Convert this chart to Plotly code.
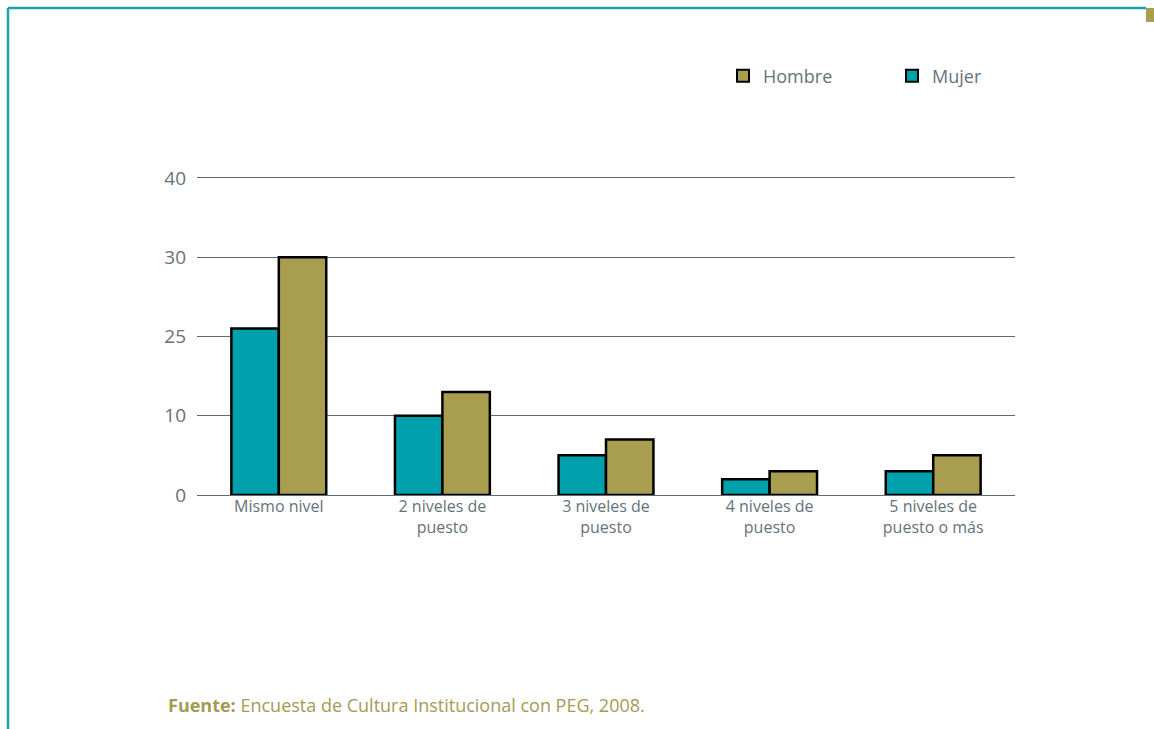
import plotly.graph_objects as go

categories = ["Mismo nivel", "2 niveles de<br>puesto", "3 niveles de<br>puesto",
              "4 niveles de<br>puesto", "5 niveles de<br>puesto o más"]
mujer = [21, 10, 5, 2, 3]
hombre = [30, 13, 7, 3, 5]
tick_vals = [0, 10, 20, 30, 40]
tick_text = ["0", "10", "25", "30", "40"]

TEAL = "#00a0ad"
GOLD = "#a99d4f"
TXT = "#66727a"
FONT = "Open Sans"

W, H = 1154, 729
L, R, T, B = 197, 1015, 176, 495
YMAX = 40.25


def px(x):
    return (x - L) / (R - L)


def py(y):
    return (B - y) / (B - T)


fig = go.Figure()
fig.add_bar(name="Mujer", x=categories, y=mujer, marker=dict(color=TEAL, line=dict(color="black", width=2.5)))
fig.add_bar(name="Hombre", x=categories, y=hombre, marker=dict(color=GOLD, line=dict(color="black", width=2.5)))

fig.update_layout(
    width=W, height=H,
    margin=dict(l=L, r=W - R, t=T, b=H - B, pad=0),
    paper_bgcolor="white", plot_bgcolor="white",
    barmode="group", bargap=0.42, bargroupgap=0,
    font=dict(family=FONT, color=TXT),
    legend=dict(orientation="h", traceorder="reversed", x=px(723), y=py(76),
                xanchor="left", yanchor="middle", entrywidth=124,
                font=dict(size=18, color=TXT, family=FONT), itemsizing="constant"),
    xaxis=dict(showgrid=False, showline=False, ticks="", tickfont=dict(size=16, color=TXT)),
    yaxis=dict(range=[0, YMAX], tickvals=tick_vals, ticktext=tick_text, showgrid=True,
               gridcolor="#5f6b73", gridwidth=1, zeroline=True, zerolinecolor="#5f6b73",
               zerolinewidth=1, showline=False, ticks="", ticklabelstandoff=10,
               tickfont=dict(size=19, color=TXT)),
    shapes=[
        dict(type="line", xref="paper", yref="paper", x0=px(8), x1=px(1146), y0=py(8), y1=py(8),
             line=dict(color="#1aa3b0", width=2.5)),
        dict(type="line", xref="paper", yref="paper", x0=px(8), x1=px(8), y0=py(8), y1=py(729),
             line=dict(color="#1aa3b0", width=2.5)),
        dict(type="rect", xref="paper", yref="paper", x0=px(1146), x1=px(1154), y0=py(8), y1=py(22),
             fillcolor=GOLD, line=dict(width=0)),
    ],
    annotations=[
        dict(xref="paper", yref="paper", x=px(166), y=py(705), xanchor="left", yanchor="middle",
             showarrow=False, text="<b>Fuente:</b> Encuesta de Cultura Institucional con PEG, 2008.",
             font=dict(size=18, color="#a59a54", family=FONT)),
    ],
)

fig.write_html("out.html", config={"displayModeBar": False},
               post_script="document.body.style.margin='0';document.body.style.overflow='hidden';")
